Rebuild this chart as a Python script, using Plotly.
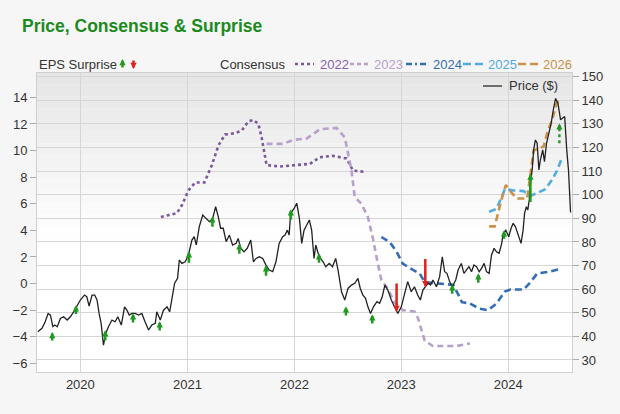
import plotly.graph_objects as go

# ---------------- data ----------------
price_dates = [
"2019-08-09","2019-08-23","2019-09-03","2019-09-13","2019-09-21","2019-09-29","2019-10-06","2019-10-14",
"2019-10-25","2019-11-05","2019-11-17","2019-11-28","2019-12-09","2019-12-21","2020-01-01","2020-01-15",
"2020-01-23","2020-01-31","2020-02-10","2020-02-19","2020-02-27","2020-03-05","2020-03-12","2020-03-20",
"2020-03-28","2020-04-06","2020-04-18","2020-04-29","2020-05-08","2020-05-20","2020-05-31","2020-06-08",
"2020-06-16","2020-06-25","2020-07-06","2020-07-18","2020-07-29","2020-08-09","2020-08-21","2020-09-01",
"2020-09-13","2020-09-18","2020-09-30","2020-10-11","2020-10-23","2020-11-01","2020-11-09","2020-11-18",
"2020-11-28","2020-12-04","2020-12-13","2020-12-24","2021-01-04","2021-01-16","2021-01-24","2021-01-31",
"2021-02-10","2021-02-22","2021-03-05","2021-03-17","2021-03-28","2021-04-07","2021-04-16","2021-04-24",
"2021-05-03","2021-05-13","2021-05-24","2021-06-04","2021-06-16","2021-06-23","2021-07-02","2021-07-13",
"2021-07-24","2021-08-05","2021-08-14","2021-08-23","2021-09-03","2021-09-15","2021-09-26","2021-10-07",
"2021-10-19","2021-10-30","2021-11-10","2021-11-22","2021-11-30","2021-12-08","2021-12-14","2021-12-19",
"2021-12-31","2022-01-09","2022-01-18","2022-01-26","2022-02-03","2022-02-12","2022-02-21","2022-03-01",
"2022-03-09","2022-03-15","2022-03-23","2022-03-31","2022-04-09","2022-04-18","2022-04-30","2022-05-11",
"2022-05-22","2022-05-30","2022-06-11","2022-06-22","2022-07-03","2022-07-15","2022-07-26","2022-08-06",
"2022-08-14","2022-08-23","2022-09-01","2022-09-09","2022-09-18","2022-09-28","2022-10-10","2022-10-19",
"2022-10-28","2022-11-06","2022-11-16","2022-11-28","2022-12-09","2022-12-20","2023-01-01","2023-01-12",
"2023-01-23","2023-02-04","2023-02-15","2023-02-26","2023-03-07","2023-03-16","2023-03-25","2023-04-02",
"2023-04-11","2023-04-19","2023-05-01","2023-05-12","2023-05-21","2023-05-29","2023-06-06","2023-06-15",
"2023-06-24","2023-07-06","2023-07-14","2023-07-25","2023-08-03","2023-08-11","2023-08-20","2023-08-29",
"2023-09-06","2023-09-15","2023-09-24","2023-10-02","2023-10-11","2023-10-19","2023-10-28","2023-11-05",
"2023-11-14","2023-11-22","2023-12-01","2023-12-10","2023-12-15","2023-12-24","2024-01-03","2024-01-11",
"2024-01-18","2024-01-26","2024-02-02","2024-02-09","2024-02-14","2024-02-21","2024-02-26","2024-03-03",
"2024-03-08","2024-03-13","2024-03-17","2024-03-23","2024-03-28","2024-04-03","2024-04-09","2024-04-15",
"2024-04-20","2024-04-28","2024-05-04","2024-05-11","2024-05-19","2024-05-27","2024-06-03","2024-06-11",
"2024-06-19","2024-06-28","2024-07-04","2024-07-12","2024-07-19","2024-07-25","2024-08-01"]
price_values = [
42.0,43.4,46.2,49.7,49.0,44.1,44.8,44.1,
47.6,48.3,46.9,48.3,50.4,53.3,55.4,57.5,
56.8,52.8,57.5,57.5,55.4,49.7,45.5,36.3,
41.3,44.1,46.9,46.2,48.3,44.8,52.5,51.1,
49.0,49.7,49.7,49.0,49.7,46.2,42.7,44.8,
45.5,50.4,46.9,51.1,52.5,50.4,56.8,62.5,
64.6,72.3,70.9,71.6,74.4,80.8,82.2,78.7,
86.4,91.4,90.0,88.6,90.0,94.9,90.7,85.8,
85.8,80.1,82.9,78.7,79.4,81.5,77.3,75.8,
77.3,80.8,71.6,73.0,73.7,73.0,70.2,68.1,
67.4,71.6,79.4,82.2,82.9,85.0,82.9,92.1,
94.2,96.4,90.0,79.4,85.0,87.0,89.3,85.0,
73.0,78.7,75.2,73.0,71.6,69.5,70.9,69.5,
73.0,68.1,58.9,55.4,60.3,61.7,62.5,64.6,
60.3,57.5,56.1,52.5,49.7,52.5,54.7,54.0,
56.8,61.7,59.6,55.4,52.5,49.7,52.5,57.5,
63.2,58.9,61.0,57.5,55.4,59.6,61.0,62.5,
61.7,63.9,61.0,65.3,73.7,67.4,66.7,63.2,
61.0,63.9,68.1,70.9,66.7,68.1,69.5,67.4,
70.2,69.5,67.4,68.8,70.9,67.4,66.7,74.4,
77.3,75.8,75.2,79.4,83.6,85.0,82.2,85.8,
87.9,86.4,83.6,80.8,79.4,85.0,92.1,94.9,
93.5,97.8,104.8,110.5,119.0,123.2,121.8,110.5,
114.7,119.0,114.0,121.8,126.0,130.3,135.9,140.8,
138.7,131.7,132.4,133.1,119.0,110.5,92.5]

cons2022_dates = ["2020-10-02","2020-11-26","2020-12-13","2021-01-04","2021-01-27","2021-02-28","2021-03-25",
"2021-04-17","2021-05-09","2021-06-12","2021-07-05","2021-07-28","2021-08-14","2021-08-31","2021-09-11",
"2021-09-28","2021-11-13","2021-12-28","2022-02-23","2022-03-29","2022-05-13","2022-06-28","2022-07-20","2022-08-26"]
cons2022_values = [5.0,5.3,5.9,7.0,7.6,7.6,8.9,10.4,11.2,11.3,11.5,12.2,12.3,12.0,11.0,
8.9,8.8,8.9,9.0,9.5,9.6,9.4,8.5,8.4]

cons2023_dates = ["2021-09-28","2021-11-24","2021-12-28","2022-02-12","2022-03-29","2022-05-25","2022-06-22",
"2022-07-03","2022-07-15","2022-07-26","2022-08-18","2022-09-09","2022-09-26","2022-10-13","2022-10-25",
"2022-11-16","2022-12-09","2023-01-06","2023-02-15","2023-02-27","2023-03-10","2023-03-22","2023-04-19",
"2023-07-08","2023-08-23"]
cons2023_values = [10.5,10.5,10.8,10.9,11.6,11.7,11.0,9.9,8.5,6.5,6.0,5.0,3.4,1.5,0.25,
-0.4,-1.4,-2.0,-2.1,-2.6,-3.5,-4.3,-4.7,-4.7,-4.5]

cons2024_dates = ["2022-10-25","2022-11-23","2022-12-16","2023-01-06","2023-02-04","2023-03-05","2023-03-22",
"2023-04-19","2023-05-12","2023-06-27","2023-07-14","2023-07-27","2023-08-23","2023-09-26","2023-10-25",
"2023-11-22","2023-12-21","2024-01-09","2024-02-23","2024-03-17","2024-04-09","2024-05-24","2024-06-27"]
cons2024_values = [3.5,3.1,2.4,1.5,1.1,0.75,0.1,0.05,0.0,-0.1,-0.8,-1.4,-1.5,-1.9,-2.0,
-1.5,-0.6,-0.45,-0.45,0.1,0.75,0.9,1.1]

cons2025_dates = ["2023-10-28","2023-11-22","2023-12-21","2024-01-20","2024-02-23","2024-03-17","2024-04-09",
"2024-05-07","2024-05-30","2024-06-16","2024-06-30"]
cons2025_values = [5.4,5.6,7.1,7.0,6.95,6.6,6.8,7.1,7.8,8.5,9.3]

cons2026_dates = ["2023-10-28","2023-11-16","2023-12-09","2023-12-24","2024-01-14","2024-01-31","2024-03-06",
"2024-03-17","2024-03-28","2024-04-14","2024-05-01","2024-05-13","2024-05-30","2024-06-14","2024-06-25"]
cons2026_values = [4.3,4.3,6.3,7.4,6.8,6.4,6.4,8.4,10.0,10.15,10.3,11.3,12.3,13.5,13.9]

surprise_dates = ["2019-09-27","2019-12-17","2020-03-26","2020-06-29","2020-09-28","2021-01-06","2021-03-27",
"2021-06-27","2021-09-26","2021-12-20","2022-03-26","2022-06-26","2022-09-24","2022-12-16","2023-03-24",
"2023-06-24","2023-09-21","2023-12-18","2024-03-17","2024-06-24"]
surprise_from = [-4.40,-2.40,-4.40,-3.05,-3.65,1.45,4.15,2.12,0.48,4.68,1.45,-2.52,-3.12,0.12,1.95,
-0.88,-0.05,3.25,6.02,10.55]
surprise_to = [-3.64,-1.63,-3.51,-2.23,-2.83,2.43,5.06,3.03,1.38,5.59,2.28,-1.71,-2.31,-2.14,-0.28,
-0.05,0.77,4.01,8.27,12.05]
surprise_estimate = [False]*19 + [True]

eps_ticks = [-6, -4, -2, 0, 2, 4, 6, 8, 10, 12, 14]
price_ticks = [30, 40, 50, 60, 70, 80, 90, 100, 110, 120, 130, 140, 150]
year_labels = ["2020", "2021", "2022", "2023", "2024"]

# ---------------- styling ----------------
C2022 = "#7a5a9c"
C2023 = "#b7a0cc"
C2024 = "#336eb3"
C2025 = "#52ace0"
C2026 = "#cc9148"
T2022 = "#8a62aa"
GREEN = "#1f9a1f"
RED = "#e3211e"
FONT = "Liberation Sans, Arial, sans-serif"

W, H = 620, 414
L, R, T, B = 37, 572, 73, 372


def px(x):
    return (x - L) / (R - L)


def py(y):
    return (B - y) / (B - T)


fig = go.Figure()

fig.add_trace(go.Scatter(x=price_dates, y=price_values, mode="lines", yaxis="y2",
                         line=dict(color="#222222", width=1.3), name="Price ($)", showlegend=False))
for d, v, c, dash in [
    (cons2022_dates, cons2022_values, C2022, "dot"),
    (cons2023_dates, cons2023_values, C2023, "6px,4px"),
    (cons2024_dates, cons2024_values, C2024, "7px,4px"),
    (cons2025_dates, cons2025_values, C2025, "7px,4px"),
    (cons2026_dates, cons2026_values, C2026, "7px,4px"),
]:
    fig.add_trace(go.Scatter(x=d, y=v, mode="lines", yaxis="y",
                             line=dict(color=c, width=2.6, dash=dash), showlegend=False))

AS, AW = 0.5, 2.5
annotations = []
for d, f, t, est in zip(surprise_dates, surprise_from, surprise_to, surprise_estimate):
    col = GREEN if t > f else RED
    if est:
        fig.add_trace(go.Scatter(x=[d, d], y=[f, t - 0.3], mode="lines", yaxis="y",
                                 line=dict(color=col, width=2.4, dash="dot"), showlegend=False))
        annotations.append(dict(x=d, y=t, ax=d, ay=t - 0.35, xref="x", yref="y", axref="x", ayref="y",
                                showarrow=True, arrowhead=2, arrowsize=AS, arrowwidth=AW,
                                arrowcolor=col, text=""))
    else:
        annotations.append(dict(x=d, y=t, ax=d, ay=f, xref="x", yref="y", axref="x", ayref="y",
                                showarrow=True, arrowhead=2, arrowsize=AS, arrowwidth=AW,
                                arrowcolor=col, text=""))

# legend (manual)
annotations.append(dict(x=px(37), y=py(64), xref="paper", yref="paper", xanchor="left", yanchor="middle",
                        text="EPS Surprise", showarrow=False, font=dict(size=13, color="#333", family=FONT)))
annotations.append(dict(x=px(122.5), y=py(59), xref="paper", yref="paper", ax=0, ay=10, text="",
                        showarrow=True, arrowhead=2, arrowsize=AS, arrowwidth=AW, arrowcolor=GREEN))
annotations.append(dict(x=px(133.5), y=py(69), xref="paper", yref="paper", ax=0, ay=-10, text="",
                        showarrow=True, arrowhead=2, arrowsize=AS, arrowwidth=AW, arrowcolor=RED))
annotations.append(dict(x=px(218), y=py(64), xref="paper", yref="paper", xanchor="left", yanchor="middle",
                        text="Consensus", showarrow=False, font=dict(size=13, color="#333", family=FONT)))

shapes = []
leg = [
    (295, 314, "dot", C2022, 318, "2022", T2022),
    (350, 369, "4px,3px", C2023, 372, "2023", C2023),
    (406, 429, "6px,3px,2px,3px", C2024, 431, "2024", C2024),
    (463, 484, "8px,4px", C2025, 486, "2025", C2025),
    (518, 540, "8px,4px", C2026, 541, "2026", C2026),
]
for x0, x1, dash, col, tx, lab, tcol in leg:
    shapes.append(dict(type="line", xref="paper", yref="paper", x0=px(x0), x1=px(x1), y0=py(64), y1=py(64),
                       line=dict(color=col, width=2.4, dash=dash)))
    annotations.append(dict(x=px(tx), y=py(64), xref="paper", yref="paper", xanchor="left", yanchor="middle",
                            text=lab, showarrow=False, font=dict(size=13, color=tcol, family=FONT)))

shapes.append(dict(type="line", xref="paper", yref="paper", x0=px(483), x1=px(502), y0=py(86), y1=py(86),
                   line=dict(color="#444", width=1.5)))
annotations.append(dict(x=px(507), y=py(86), xref="paper", yref="paper", xanchor="left", yanchor="middle",
                        text="Price ($)", showarrow=False, font=dict(size=13, color="#333", family=FONT)))

# plot background gradient
nb = 14
for i in range(nb):
    y0 = 0.45 + 0.55 * i / nb
    y1 = 0.45 + 0.55 * (i + 1) / nb
    g = int(round(255 - (255 - 229) * (i + 0.5) / nb))
    shapes.append(dict(type="rect", xref="paper", yref="paper", x0=0, x1=1, y0=y0, y1=y1,
                       fillcolor=f"rgb({g},{g},{g})", line=dict(width=0), layer="below"))

fig.update_layout(
    width=W, height=H,
    margin=dict(l=L, r=W - R, t=T, b=H - B),
    paper_bgcolor="#f6f6f6",
    plot_bgcolor="#ffffff",
    font=dict(family=FONT, size=13, color="#333"),
    title=dict(text="<b>Price, Consensus & Surprise</b>", x=22 / W, xref="container", xanchor="left",
               y=1 - 25.5 / H, yref="container", yanchor="middle",
               font=dict(size=17.5, color="#1c8a1c", family=FONT)),
    showlegend=False,
    xaxis=dict(type="date", range=["2019-08-06", "2024-08-06"],
               tickvals=[f"{y}-01-01" for y in year_labels], ticktext=year_labels,
               showgrid=True, gridcolor="#d6d6d6", gridwidth=1,
               showline=True, mirror=True, linecolor="#cfcfcf", ticks="", zeroline=False,
               tickfont=dict(size=13, color="#333")),
    yaxis=dict(range=[-6.65, 15.83], tickvals=eps_ticks, showgrid=False, zeroline=False,
               ticks="outside", ticklen=6, tickcolor="#aaaaaa", showline=True, linecolor="#cfcfcf",
               tickfont=dict(size=13, color="#333")),
    yaxis2=dict(range=[24.9, 151.57], tickvals=price_ticks, overlaying="y", side="right",
                showgrid=True, gridcolor="#d6d6d6", zeroline=False,
                ticks="outside", ticklen=6, tickcolor="#aaaaaa", showline=True, linecolor="#cfcfcf",
                tickfont=dict(size=13, color="#333")),
    annotations=annotations,
    shapes=shapes,
)

fig.write_html("out.html", config={"displayModeBar": False},
               post_script="document.body.style.margin='0';document.body.style.background='#f6f6f6';")
